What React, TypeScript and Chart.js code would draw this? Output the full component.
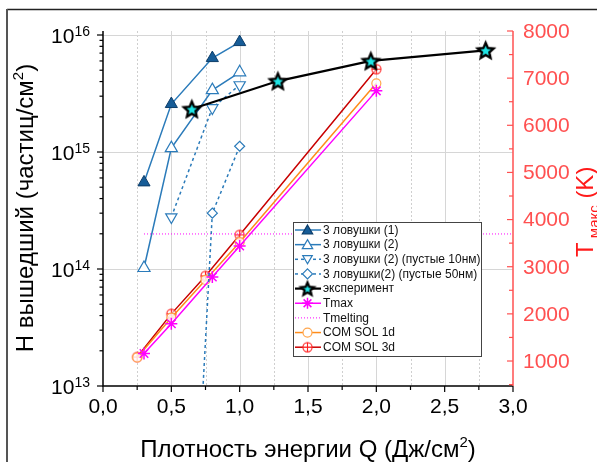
import { useEffect, useRef } from 'react';
import { Chart, registerables } from 'chart.js';
Chart.register(...registerables);

const FONT = '"Liberation Sans", Arial, sans-serif';

// ---- data ----
const trap1X = [0.3, 0.5, 0.8, 1.0];
const trap1Y = [5.5e14, 2.57e15, 6.35e15, 8.7e15];
const trap2X = [0.3, 0.5, 0.8, 1.0];
const trap2Y = [1.02e14, 1.08e15, 3.38e15, 4.8e15];
const empty10X = [0.5, 0.8, 1.0];
const empty10Y = [2.78e14, 2.38e15, 3.74e15];
const empty50X = [0.7, 0.8, 1.0];
const empty50Y = [2e12, 3.0e14, 1.12e15];
const expX = [0.65, 1.28, 1.96, 2.8];
const expY = [2.33e15, 4.04e15, 6.0e15, 7.4e15];
const tmaxX = [0.3, 0.5, 0.8, 1.0, 2.0];
const tmaxY = [1160, 1790, 2780, 3440, 6730];
const tmeltX = [0.3, 3.0];
const tmeltY = [3695, 3695];
const comsol1dX = [0.25, 0.5, 0.75, 1.0, 2.0];
const comsol1dY = [1075, 1920, 2720, 3520, 6890];
const comsol3dX = [0.25, 0.5, 0.75, 1.0, 2.0];
const comsol3dY = [1085, 2000, 2805, 3675, 7190];

const legendLabels = [
  '3 ловушки (1)',
  '3 ловушки (2)',
  '3 ловушки (2) (пустые 10нм)',
  '3 ловушки(2) (пустые 50нм)',
  'эксперимент',
  'Tmax',
  'Tmelting',
  'COM SOL 1d',
  'COM SOL 3d',
];

const xMajorTicks = [0, 0.5, 1.0, 1.5, 2.0, 2.5, 3.0];
const xTickLabels = ['0,0', '0,5', '1,0', '1,5', '2,0', '2,5', '3,0'];
const xMinorTicks = [0.25, 0.75, 1.25, 1.75, 2.25, 2.75];
const leftDecades = [13, 14, 15, 16];
const rightTicks = [1000, 2000, 3000, 4000, 5000, 6000, 7000, 8000];
const rightMinor = [500, 1500, 2500, 3500, 4500, 5500, 6500, 7500];

const xTitle = 'Плотность энергии Q (Дж/см';
const yTitle = 'Н вышедший (частиц/см';

const BLUE = '#2b7bba';
const BLUE_FILL = '#165c97';
const BLUE_EDGE = '#0d3d69';
const MAGENTA = '#ff00ff';
const ORANGE = '#ff8c1a';
const ORANGE_M = '#ffa64d';
const DARKRED = '#c80000';
const RED_M = '#ff2020';
const AXIS_RED = '#ff5050';

const pts = (xs: number[], ys: number[]) => xs.map((x, i) => ({ x, y: ys[i] }));

function makeStar(R: number): HTMLCanvasElement {
  const size = Math.ceil(R * 2 + 6);
  const c = document.createElement('canvas');
  c.width = size;
  c.height = size;
  const ctx = c.getContext('2d')!;
  const cx = size / 2, cy = size / 2 + R * 0.1, r = R * 0.46;
  ctx.beginPath();
  for (let i = 0; i < 10; i++) {
    const a = -Math.PI / 2 + (i * Math.PI) / 5;
    const rad = i % 2 === 0 ? R : r;
    const px = cx + Math.cos(a) * rad;
    const py = cy + Math.sin(a) * rad;
    if (i === 0) ctx.moveTo(px, py);
    else ctx.lineTo(px, py);
  }
  ctx.closePath();
  ctx.fillStyle = '#1fe6e6';
  ctx.fill();
  ctx.lineJoin = 'miter';
  ctx.lineWidth = 2.3;
  ctx.strokeStyle = '#000';
  ctx.stroke();
  return c;
}

function makeCirclePlus(): HTMLCanvasElement {
  const c = document.createElement('canvas');
  c.width = 13;
  c.height = 13;
  const ctx = c.getContext('2d')!;
  ctx.strokeStyle = RED_M;
  ctx.lineWidth = 1.1;
  ctx.fillStyle = 'rgba(255,255,255,0.6)';
  ctx.beginPath();
  ctx.arc(6.5, 6.5, 4.6, 0, Math.PI * 2);
  ctx.fill();
  ctx.stroke();
  ctx.beginPath();
  ctx.moveTo(2, 6.5);
  ctx.lineTo(11, 6.5);
  ctx.moveTo(6.5, 2);
  ctx.lineTo(6.5, 11);
  ctx.stroke();
  return c;
}

type Part = { t: string; s: number; dy: number };
function richWidth(ctx: CanvasRenderingContext2D, parts: Part[]) {
  let w = 0;
  for (const p of parts) {
    ctx.font = `${p.s}px ${FONT}`;
    w += ctx.measureText(p.t).width;
  }
  return w;
}
function drawRich(ctx: CanvasRenderingContext2D, parts: Part[], x: number, y: number, align: 'left' | 'center' | 'right') {
  const w = richWidth(ctx, parts);
  let cx = align === 'center' ? x - w / 2 : align === 'right' ? x - w : x;
  ctx.textAlign = 'left';
  ctx.textBaseline = 'alphabetic';
  for (const p of parts) {
    ctx.font = `${p.s}px ${FONT}`;
    ctx.fillText(p.t, cx, y + p.dy);
    cx += ctx.measureText(p.t).width;
  }
}

function tri(ctx: CanvasRenderingContext2D, x: number, y: number, r: number, down: boolean) {
  ctx.beginPath();
  for (let i = 0; i < 3; i++) {
    const a = (down ? Math.PI : 0) + (i * 2 * Math.PI) / 3;
    const px = x + Math.sin(a) * r;
    const py = y - Math.cos(a) * r;
    if (i === 0) ctx.moveTo(px, py);
    else ctx.lineTo(px, py);
  }
  ctx.closePath();
}

export default function App() {
  const ref = useRef<HTMLCanvasElement>(null);
  useEffect(() => {
    document.body.style.margin = '0';
    const canvas = ref.current!;
    const star = makeStar(8.4);
    const starSmall = makeStar(6.8);
    const cplus = makeCirclePlus();

    const decor = {
      id: 'decor',
      beforeDatasetsDraw(chart: any) {
        const { ctx, chartArea: a, scales } = chart;
        const x = scales.x, y = scales.y;
        ctx.save();
        ctx.lineWidth = 1;
        ctx.strokeStyle = '#cfcfcf';
        ctx.setLineDash([2, 2]);
        for (const v of xMinorTicks) {
          const px = Math.round(x.getPixelForValue(v)) + 0.5;
          ctx.beginPath();
          ctx.moveTo(px, a.top);
          ctx.lineTo(px, a.bottom);
          ctx.stroke();
        }
        ctx.setLineDash([]);
        ctx.strokeStyle = '#d6d6d6';
        for (const v of xMajorTicks) {
          if (v === 0 || v === 3) continue;
          const px = Math.round(x.getPixelForValue(v)) + 0.5;
          ctx.beginPath();
          ctx.moveTo(px, a.top);
          ctx.lineTo(px, a.bottom);
          ctx.stroke();
        }
        for (const d of leftDecades) {
          if (d === 13) continue;
          const py = Math.round(y.getPixelForValue(Math.pow(10, d))) + 0.5;
          ctx.beginPath();
          ctx.moveTo(a.left, py);
          ctx.lineTo(a.right, py);
          ctx.stroke();
        }
        ctx.restore();
      },
      afterDraw(chart: any) {
        const { ctx, chartArea: a, scales } = chart;
        const x = scales.x, y = scales.y, y2 = scales.y2;
        ctx.save();
        ctx.strokeStyle = '#000';
        ctx.lineWidth = 1.5;
        ctx.beginPath();
        ctx.moveTo(a.left, a.top);
        ctx.lineTo(a.left, a.bottom);
        ctx.lineTo(a.right, a.bottom);
        ctx.stroke();
        ctx.lineWidth = 1.2;
        for (const v of xMajorTicks) {
          const px = x.getPixelForValue(v);
          ctx.beginPath();
          ctx.moveTo(px, a.bottom);
          ctx.lineTo(px, a.bottom + 6);
          ctx.stroke();
        }
        for (const v of xMinorTicks) {
          const px = x.getPixelForValue(v);
          ctx.beginPath();
          ctx.moveTo(px, a.bottom);
          ctx.lineTo(px, a.bottom + 4);
          ctx.stroke();
        }
        for (const d of leftDecades) {
          const py = y.getPixelForValue(Math.pow(10, d));
          ctx.beginPath();
          ctx.moveTo(a.left, py);
          ctx.lineTo(a.left - 6, py);
          ctx.stroke();
          if (d < 16) {
            for (let m = 2; m <= 9; m++) {
              const pm = y.getPixelForValue(m * Math.pow(10, d));
              ctx.beginPath();
              ctx.moveTo(a.left, pm);
              ctx.lineTo(a.left - 3.5, pm);
              ctx.stroke();
            }
          }
        }
        ctx.fillStyle = '#000';
        ctx.font = `21px ${FONT}`;
        ctx.textAlign = 'center';
        ctx.textBaseline = 'alphabetic';
        xMajorTicks.forEach((v, i) => {
          ctx.fillText(xTickLabels[i], x.getPixelForValue(v), 413);
        });
        for (const d of leftDecades) {
          const py = y.getPixelForValue(Math.pow(10, d));
          ctx.font = `14px ${FONT}`;
          ctx.textAlign = 'right';
          ctx.fillText(String(d), 90, py + 1);
          const ew = ctx.measureText(String(d)).width;
          ctx.font = `21px ${FONT}`;
          ctx.fillText('10', 90 - ew, py + 8);
        }
        ctx.strokeStyle = AXIS_RED;
        ctx.lineWidth = 1.5;
        ctx.beginPath();
        ctx.moveTo(a.right, a.top);
        ctx.lineTo(a.right, a.bottom);
        ctx.stroke();
        ctx.lineWidth = 1.2;
        for (const v of rightTicks) {
          const py = y2.getPixelForValue(v);
          ctx.beginPath();
          ctx.moveTo(a.right, py);
          ctx.lineTo(a.right - 6, py);
          ctx.stroke();
        }
        for (const v of rightMinor) {
          const py = y2.getPixelForValue(v);
          ctx.beginPath();
          ctx.moveTo(a.right, py);
          ctx.lineTo(a.right - 4, py);
          ctx.stroke();
        }
        ctx.fillStyle = AXIS_RED;
        ctx.font = `21px ${FONT}`;
        ctx.textAlign = 'left';
        ctx.textBaseline = 'middle';
        for (const v of rightTicks) {
          ctx.fillText(String(v), 523, y2.getPixelForValue(v) + 1);
        }
        ctx.fillStyle = '#000';
        drawRich(ctx, [
          { t: xTitle, s: 24, dy: 0 },
          { t: '2', s: 15, dy: -10 },
          { t: ')', s: 24, dy: 0 },
        ], 308, 457, 'center');
        ctx.save();
        ctx.translate(33, 0);
        ctx.rotate(-Math.PI / 2);
        drawRich(ctx, [
          { t: yTitle, s: 24, dy: 0 },
          { t: '2', s: 15, dy: -10 },
          { t: ')', s: 24, dy: 0 },
        ], -208, 0, 'center');
        ctx.restore();
        ctx.save();
        ctx.fillStyle = '#ff1a1a';
        ctx.translate(593, 0);
        ctx.rotate(-Math.PI / 2);
        drawRich(ctx, [
          { t: 'T', s: 24, dy: 0 },
          { t: ' макс', s: 15, dy: 6 },
          { t: ' (K)', s: 24, dy: 0 },
        ], -257, 0, 'left');
        ctx.restore();
        ctx.strokeStyle = '#222';
        ctx.lineWidth = 1.5;
        ctx.beginPath();
        ctx.moveTo(7, 9.5);
        ctx.lineTo(597, 9.5);
        ctx.stroke();
        ctx.strokeStyle = '#555';
        ctx.lineWidth = 2;
        ctx.beginPath();
        ctx.moveTo(7, 9);
        ctx.lineTo(7, 462);
        ctx.stroke();
        // legend
        const lx = 293.5, ly = 222.5, lw = 188, lh = 134;
        ctx.fillStyle = '#fff';
        ctx.fillRect(lx, ly, lw, lh);
        ctx.strokeStyle = '#444';
        ctx.lineWidth = 1;
        ctx.strokeRect(lx, ly, lw, lh);
        const styles = [
          { c: BLUE, dash: [] as number[], w: 1.5, m: 'triFill' },
          { c: BLUE, dash: [], w: 1.5, m: 'triOpen' },
          { c: BLUE, dash: [3, 3], w: 1.5, m: 'triDown' },
          { c: BLUE, dash: [3, 3], w: 1.5, m: 'diamond' },
          { c: '#000', dash: [], w: 2.2, m: 'star' },
          { c: MAGENTA, dash: [], w: 1.5, m: 'ast' },
          { c: MAGENTA, dash: [1, 2], w: 1, m: '' },
          { c: ORANGE, dash: [], w: 1.5, m: 'circ' },
          { c: DARKRED, dash: [], w: 1.5, m: 'cplus' },
        ];
        styles.forEach((st, i) => {
          const ry = 230 + i * 14.65;
          ctx.strokeStyle = st.c;
          ctx.lineWidth = st.w;
          ctx.setLineDash(st.dash);
          ctx.beginPath();
          ctx.moveTo(295, ry);
          ctx.lineTo(321, ry);
          ctx.stroke();
          ctx.setLineDash([]);
          const mx = 307.5;
          ctx.lineWidth = 1.2;
          if (st.m === 'triFill') {
            tri(ctx, mx, ry + 1, 6, false);
            ctx.fillStyle = BLUE_FILL;
            ctx.fill();
            ctx.strokeStyle = BLUE_EDGE;
            ctx.stroke();
          } else if (st.m === 'triOpen') {
            tri(ctx, mx, ry + 1, 6, false);
            ctx.fillStyle = '#fff';
            ctx.fill();
            ctx.strokeStyle = BLUE;
            ctx.stroke();
          } else if (st.m === 'triDown') {
            tri(ctx, mx, ry - 1, 5.5, true);
            ctx.fillStyle = '#fff';
            ctx.fill();
            ctx.strokeStyle = BLUE;
            ctx.stroke();
          } else if (st.m === 'diamond') {
            ctx.beginPath();
            ctx.moveTo(mx, ry - 5);
            ctx.lineTo(mx + 5, ry);
            ctx.lineTo(mx, ry + 5);
            ctx.lineTo(mx - 5, ry);
            ctx.closePath();
            ctx.fillStyle = '#fff';
            ctx.fill();
            ctx.strokeStyle = BLUE;
            ctx.stroke();
          } else if (st.m === 'star') {
            ctx.drawImage(starSmall, mx - starSmall.width / 2, ry - starSmall.height / 2);
          } else if (st.m === 'ast') {
            ctx.strokeStyle = MAGENTA;
            ctx.lineWidth = 1.5;
            ctx.beginPath();
            for (let k = 0; k < 4; k++) {
              const ang = (k * Math.PI) / 4;
              ctx.moveTo(mx - Math.cos(ang) * 5.5, ry - Math.sin(ang) * 5.5);
              ctx.lineTo(mx + Math.cos(ang) * 5.5, ry + Math.sin(ang) * 5.5);
            }
            ctx.stroke();
          } else if (st.m === 'circ') {
            ctx.beginPath();
            ctx.arc(mx, ry, 4.5, 0, Math.PI * 2);
            ctx.fillStyle = '#fff';
            ctx.fill();
            ctx.strokeStyle = ORANGE_M;
            ctx.stroke();
          } else if (st.m === 'cplus') {
            ctx.drawImage(cplus, mx - cplus.width / 2, ry - cplus.height / 2);
          }
          ctx.fillStyle = '#111';
          ctx.font = `12px ${FONT}`;
          ctx.textAlign = 'left';
          ctx.textBaseline = 'middle';
          ctx.fillText(legendLabels[i], 323, ry + 0.5);
        });
        ctx.restore();
      },
    };

    const chart = new Chart(canvas, {
      type: 'line',
      data: {
        datasets: [
          {
            label: legendLabels[8], data: pts(comsol3dX, comsol3dY), yAxisID: 'y2',
            borderColor: DARKRED, borderWidth: 1.5, pointStyle: cplus as any, pointRadius: 5,
            order: 9,
          },
          {
            label: legendLabels[7], data: pts(comsol1dX, comsol1dY), yAxisID: 'y2',
            borderColor: ORANGE, borderWidth: 1.5, pointStyle: 'circle', pointRadius: 4.5,
            pointBackgroundColor: 'rgba(255,255,255,0.8)', pointBorderColor: ORANGE_M, pointBorderWidth: 1.2,
            order: 8,
          },
          {
            label: legendLabels[5], data: pts(tmaxX, tmaxY), yAxisID: 'y2',
            borderColor: MAGENTA, borderWidth: 1.5, pointStyle: 'star', pointRadius: 6,
            pointBorderColor: MAGENTA, pointBorderWidth: 1.5, order: 7,
          },
          {
            label: legendLabels[6], data: pts(tmeltX, tmeltY), yAxisID: 'y2',
            borderColor: MAGENTA, borderWidth: 1, borderDash: [1, 2], pointRadius: 0, order: 6,
          },
          {
            label: legendLabels[3], data: pts(empty50X, empty50Y), yAxisID: 'y',
            borderColor: BLUE, borderWidth: 1.5, borderDash: [3, 3], pointStyle: 'rectRot', pointRadius: 5,
            pointBackgroundColor: '#fff', pointBorderColor: BLUE, pointBorderWidth: 1.2, order: 5,
          },
          {
            label: legendLabels[2], data: pts(empty10X, empty10Y), yAxisID: 'y',
            borderColor: BLUE, borderWidth: 1.5, borderDash: [3, 3], pointStyle: 'triangle', pointRotation: 180,
            pointRadius: 6.5, pointBackgroundColor: '#fff', pointBorderColor: BLUE, pointBorderWidth: 1.2, order: 4,
          },
          {
            label: legendLabels[1], data: pts(trap2X, trap2Y), yAxisID: 'y',
            borderColor: BLUE, borderWidth: 1.5, pointStyle: 'triangle', pointRadius: 7,
            pointBackgroundColor: '#fff', pointBorderColor: BLUE, pointBorderWidth: 1.2, order: 3,
          },
          {
            label: legendLabels[0], data: pts(trap1X, trap1Y), yAxisID: 'y',
            borderColor: BLUE, borderWidth: 1.5, pointStyle: 'triangle', pointRadius: 7,
            pointBackgroundColor: BLUE_FILL, pointBorderColor: BLUE_EDGE, pointBorderWidth: 1, order: 2,
          },
          {
            label: legendLabels[4], data: pts(expX, expY), yAxisID: 'y',
            borderColor: '#000', borderWidth: 2.2, pointStyle: star as any, pointRadius: 8, order: 1,
          },
        ] as any,
      },
      options: {
        responsive: false,
        animation: false,
        devicePixelRatio: 1,
        layout: { padding: { left: 103, right: 84, top: 31, bottom: 76 } },
        elements: { line: { tension: 0 } },
        plugins: { legend: { display: false }, tooltip: { enabled: false } },
        scales: {
          x: { type: 'linear', min: 0, max: 3, display: false },
          y: { type: 'logarithmic', min: 1e13, max: 1.082e16, display: false },
          y2: { type: 'linear', min: 470, max: 8000, display: false, position: 'right' },
        },
      },
      plugins: [decor],
    });
    return () => chart.destroy();
  }, []);
  return <canvas ref={ref} width={597} height={462} style={{ display: 'block', width: 597, height: 462 }} />;
}
